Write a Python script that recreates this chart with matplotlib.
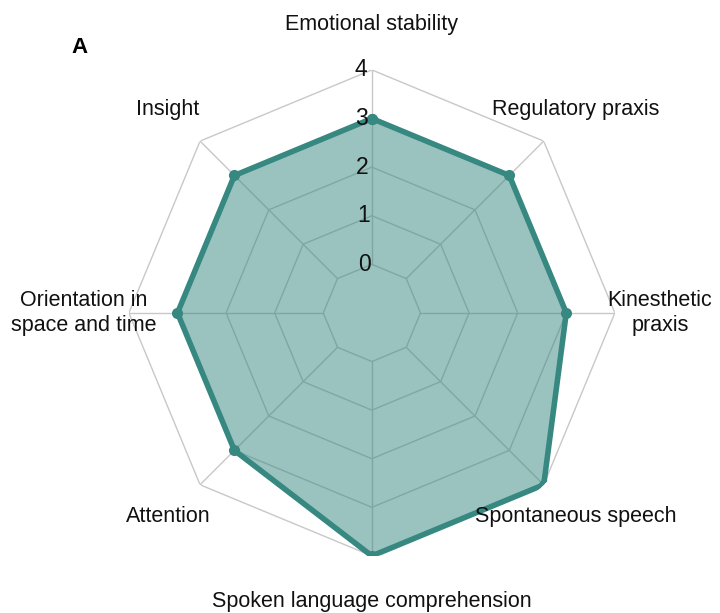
import numpy as np
import matplotlib
matplotlib.use("Agg")
import matplotlib.pyplot as plt

plt.rcParams["font.family"] = ["Liberation Sans", "DejaVu Sans"]

categories = [
    "Emotional stability",
    "Regulatory praxis",
    "Kinesthetic\npraxis",
    "Spontaneous speech",
    "Spoken language comprehension",
    "Attention",
    "Orientation in\nspace and time",
    "Insight",
]
scores = [3, 3, 3, 4, 4, 3, 3, 3]
ring_levels = [0, 1, 2, 3, 4]
ring_labels = ["0", "1", "2", "3", "4"]

line_color = "#368881"
grid_color = "#c8c8c8"

n = len(categories)
angles = np.linspace(0, 2 * np.pi, n, endpoint=False)
closed_angles = np.append(angles, angles[0])
closed_scores = np.append(scores, scores[0])

fig = plt.figure(figsize=(7.2, 6.13), dpi=100)
ax = fig.add_axes([0.179, 0.093, 0.675, 0.793], projection="polar")
ax.set_theta_offset(np.pi / 2)
ax.set_theta_direction(-1)
ax.set_ylim(-1, 4)
ax.grid(False)
ax.spines["polar"].set_visible(False)
ax.set_xticks([])
ax.set_yticks([])
ax.patch.set_alpha(0)

# octagon grid
for lvl in ring_levels:
    ax.plot(closed_angles, [lvl] * (n + 1), color=grid_color, lw=1.0, zorder=1)
for a in angles:
    ax.plot([a, a], [0, 4], color=grid_color, lw=1.0, zorder=1)

# data
ax.fill(closed_angles, closed_scores, color=line_color, alpha=0.5, zorder=2, lw=0)
ax.plot(closed_angles, closed_scores, color=line_color, lw=4, zorder=3,
        marker="o", markersize=7, solid_joinstyle="miter")

# ring labels along the top axis
for lvl, lab in zip(ring_levels, ring_labels):
    ax.text(-0.02, lvl, lab, ha="right", va="center", fontsize=16.5, color="#111111",
            zorder=4)

# category labels
for a, cat in zip(angles, categories):
    ax.text(a, 4.93, cat, ha="center", va="center", fontsize=15.5, color="#111111",
            clip_on=False, linespacing=1.2)

fig.text(0.111, 0.923, "A", fontsize=16, fontweight="bold", ha="center", va="center")

fig.savefig("out.png", dpi=100)
